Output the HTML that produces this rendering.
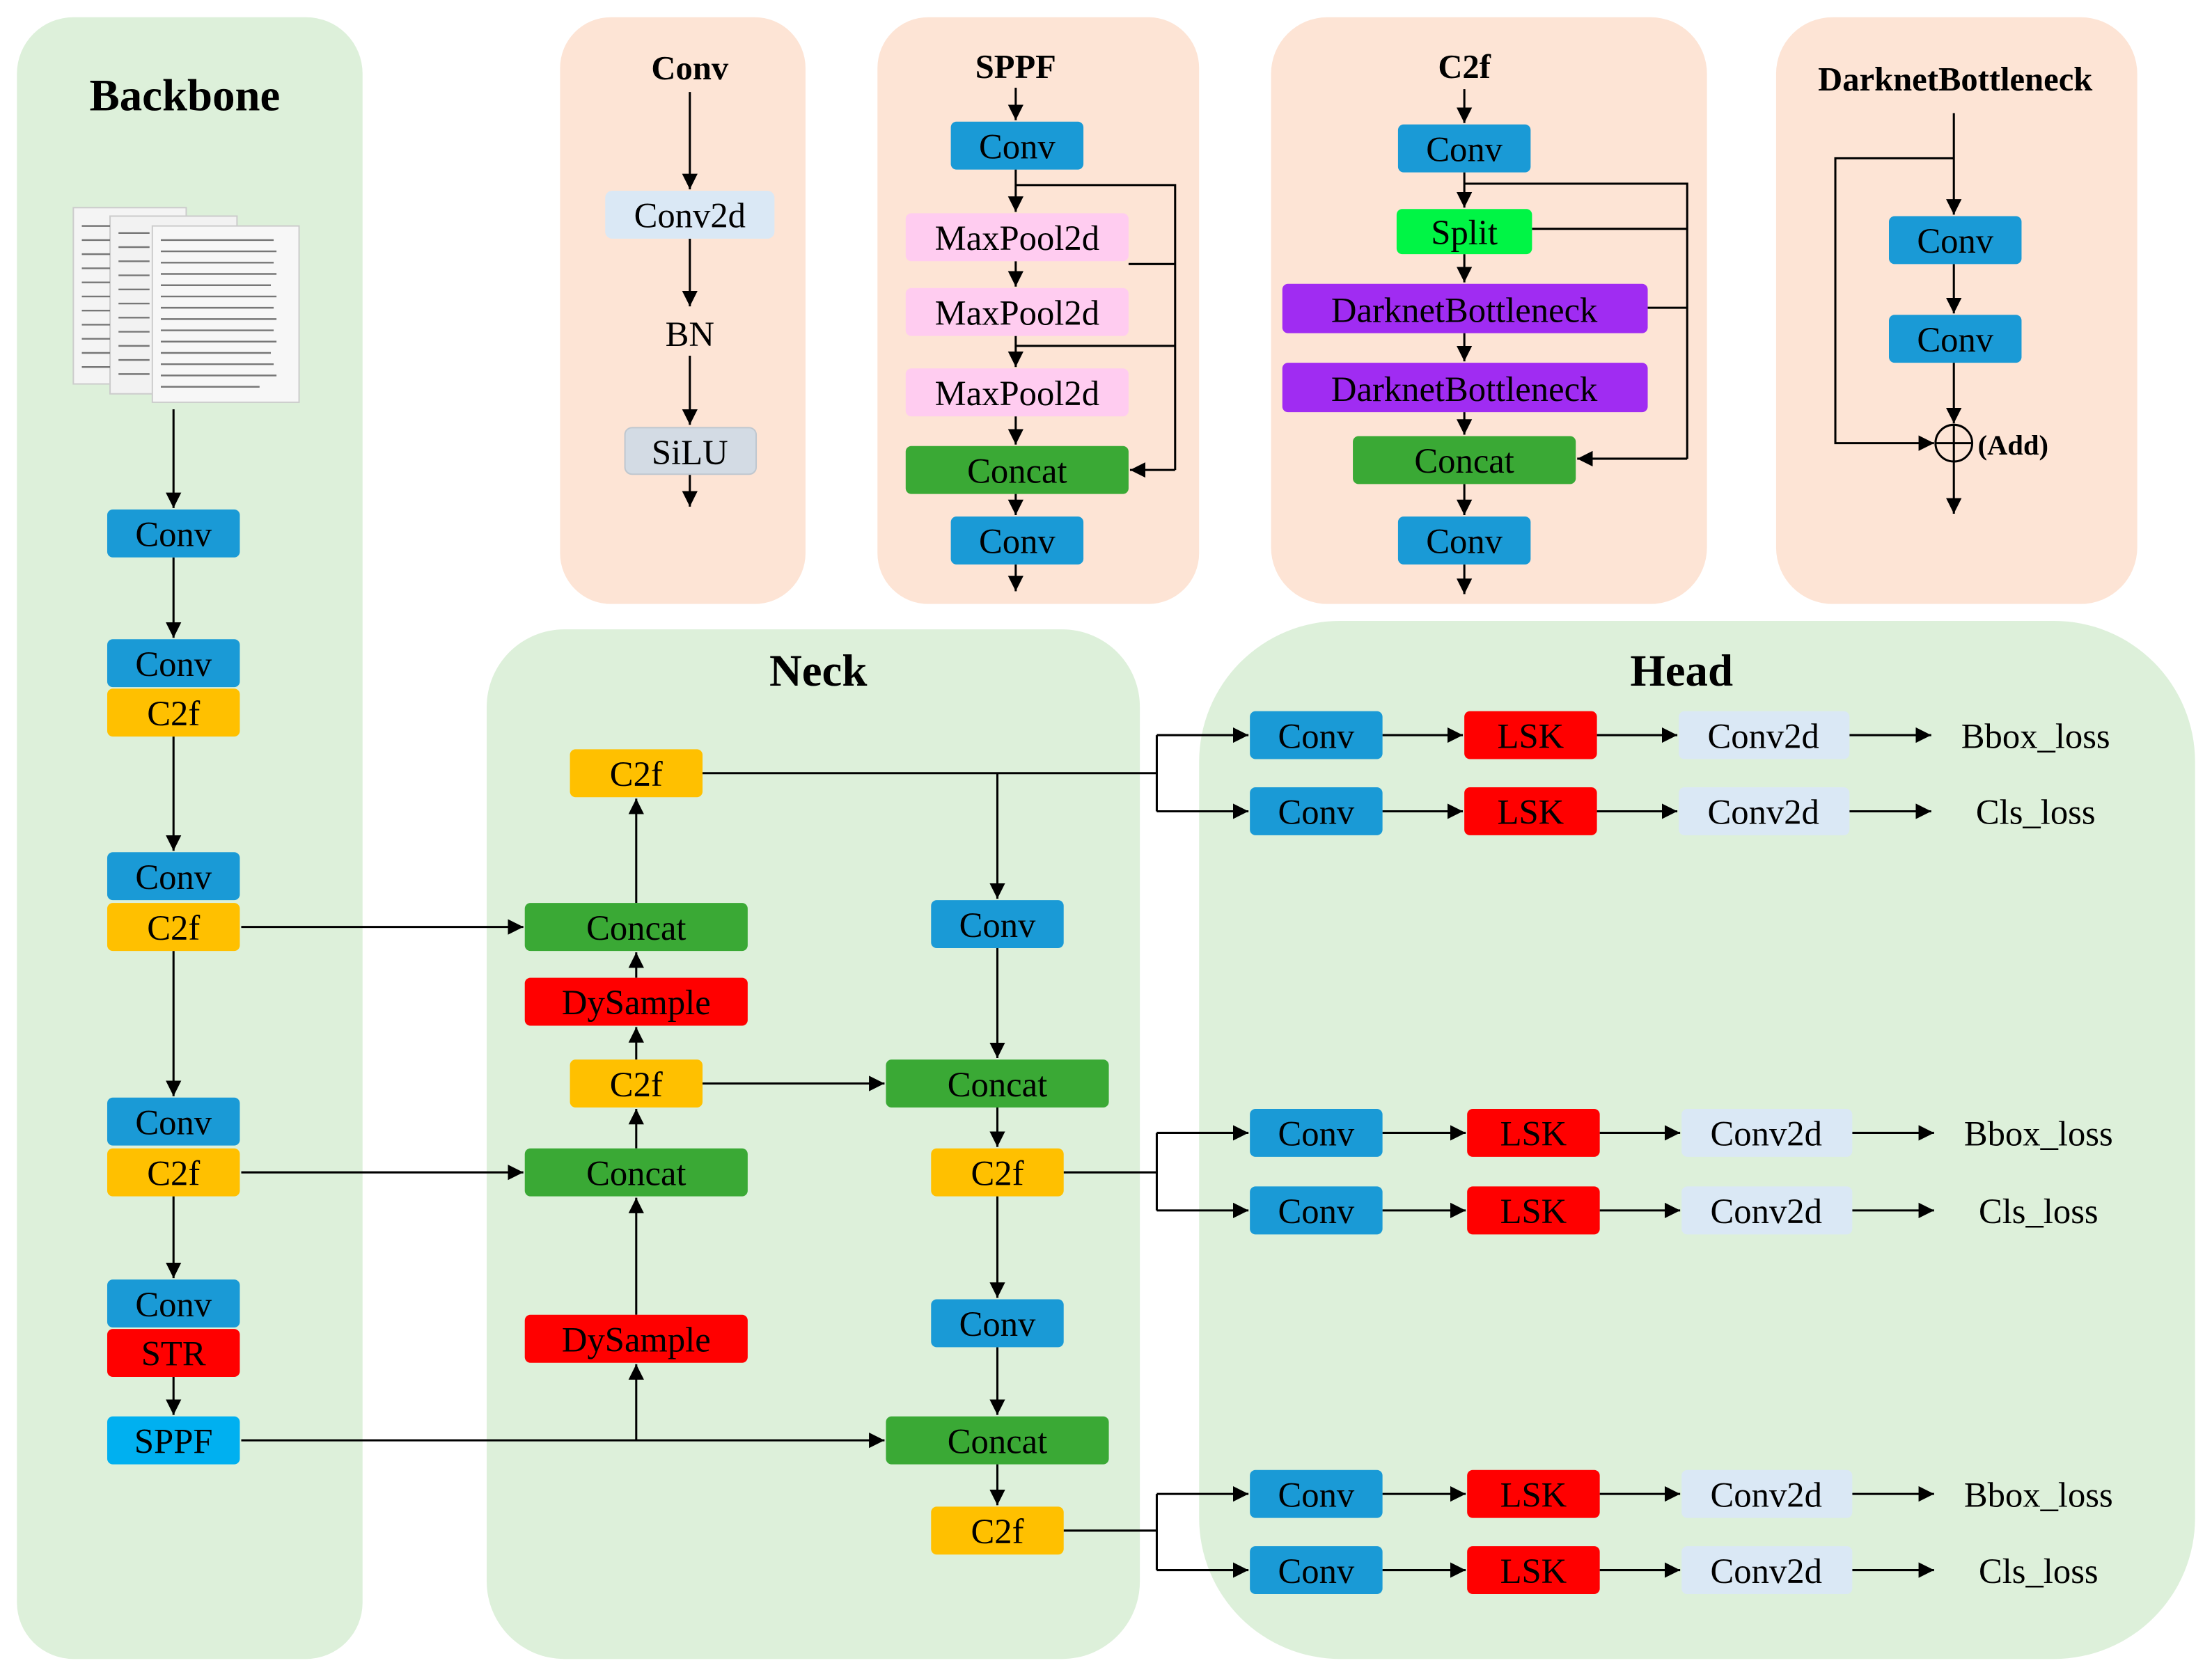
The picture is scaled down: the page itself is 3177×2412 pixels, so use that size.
<!DOCTYPE html>
<html><head><meta charset="utf-8"><style>
html,body{margin:0;padding:0;background:#fff}
svg{display:block}
svg text{font-family:"Liberation Serif","Times New Roman",serif !important;fill:#000}
</style></head><body>
<svg width="3177" height="2412" viewBox="0 0 1568 1190" xmlns="http://www.w3.org/2000/svg" font-family="Liberation Serif, Times New Roman, serif">
<defs>
<marker id="a" viewBox="0 0 10 10" refX="10" refY="5" markerWidth="11" markerHeight="11" markerUnits="userSpaceOnUse" orient="auto"><path d="M0,0L10,5L0,10z" fill="#000"/></marker>
</defs>
<g font-family="'Liberation Serif', 'Times New Roman', serif">
<!-- panels -->
<rect x="12" y="12" width="245" height="1164" rx="40" fill="#ddf0da"/>
<rect x="397" y="12" width="174" height="416" rx="36" fill="#fde4d5"/>
<rect x="622" y="12" width="228" height="416" rx="36" fill="#fde4d5"/>
<rect x="901" y="12" width="309" height="416" rx="40" fill="#fde4d5"/>
<rect x="1259" y="12" width="256" height="416" rx="40" fill="#fde4d5"/>
<rect x="345" y="446" width="463" height="730" rx="55" fill="#ddf0da"/>
<rect x="850" y="440" width="706" height="736" rx="100" fill="#ddf0da"/>

<g font-weight="bold" text-anchor="middle">
<text x="131" y="78" font-size="32">Backbone</text>
<text x="580" y="486" font-size="32">Neck</text>
<text x="1192" y="486" font-size="32">Head</text>
<text x="489" y="56" font-size="24">Conv</text>
<text x="720" y="55" font-size="24">SPPF</text>
<text x="1038" y="55" font-size="24">C2f</text>
<text x="1386" y="64" font-size="24">DarknetBottleneck</text>
</g>

<!-- document image -->
<g>
<rect x="52" y="147" width="80" height="125" fill="#f4f4f4" stroke="#ccc"/>
<rect x="78" y="153" width="90" height="126" fill="#f2f2f2" stroke="#ccc"/>
<rect x="108" y="160" width="104" height="125" fill="#f7f7f7" stroke="#ccc"/>
<g stroke="#777" stroke-width="1.2">
<path d="M58,160h20M58,170h20M58,180h20M58,190h20M58,200h20M58,210h20M58,220h20M58,230h20M58,240h20M58,250h20M58,260h20"/>
<path d="M84,165h22M84,175h22M84,185h22M84,195h22M84,205h22M84,215h22M84,225h22M84,235h22M84,245h22M84,255h22M84,265h22"/>
<path d="M114,170h80M114,178h82M114,186h80M114,194h82M114,202h78M114,210h82M114,218h80M114,226h82M114,234h80M114,242h82M114,250h78M114,258h80M114,266h82M114,274h70"/>
</g>
</g>

<!-- lines & arrows -->
<g stroke="#000" stroke-width="1.5" fill="none">
<path d="M123,290V360" marker-end="url(#a)"/>
<path d="M123,395V452" marker-end="url(#a)"/>
<path d="M123,522V603" marker-end="url(#a)"/>
<path d="M123,674V777" marker-end="url(#a)"/>
<path d="M123,848V906" marker-end="url(#a)"/>
<path d="M123,976V1003" marker-end="url(#a)"/>
<path d="M171,657H371" marker-end="url(#a)"/>
<path d="M171,831H371" marker-end="url(#a)"/>
<path d="M171,1021H627" marker-end="url(#a)"/>
<path d="M451,1021V967" marker-end="url(#a)"/>
<path d="M451,932V849" marker-end="url(#a)"/>
<path d="M451,814V786" marker-end="url(#a)"/>
<path d="M451,751V728" marker-end="url(#a)"/>
<path d="M451,693V675" marker-end="url(#a)"/>
<path d="M451,640V566" marker-end="url(#a)"/>
<path d="M498,548H820"/>
<path d="M707,548V637" marker-end="url(#a)"/>
<path d="M498,768H627" marker-end="url(#a)"/>
<path d="M707,672V750" marker-end="url(#a)"/>
<path d="M707,785V813" marker-end="url(#a)"/>
<path d="M707,848V920" marker-end="url(#a)"/>
<path d="M707,955V1003" marker-end="url(#a)"/>
<path d="M707,1038V1067" marker-end="url(#a)"/>
<path d="M754,831H820"/>
<path d="M754,1085H820"/>
<path d="M820,521V575"/>
<path d="M820,803V858"/>
<path d="M820,1059V1113"/>
<path d="M820,521H885" marker-end="url(#a)"/><path d="M820,575H885" marker-end="url(#a)"/>
<path d="M820,803H885" marker-end="url(#a)"/><path d="M820,858H885" marker-end="url(#a)"/>
<path d="M820,1059H885" marker-end="url(#a)"/><path d="M820,1113H885" marker-end="url(#a)"/>
<path d="M980,521H1037" marker-end="url(#a)"/><path d="M980,575H1037" marker-end="url(#a)"/>
<path d="M980,803H1039" marker-end="url(#a)"/><path d="M980,858H1039" marker-end="url(#a)"/>
<path d="M980,1059H1039" marker-end="url(#a)"/><path d="M980,1113H1039" marker-end="url(#a)"/>
<path d="M1132,521H1189" marker-end="url(#a)"/><path d="M1132,575H1189" marker-end="url(#a)"/>
<path d="M1134,803H1191" marker-end="url(#a)"/><path d="M1134,858H1191" marker-end="url(#a)"/>
<path d="M1134,1059H1191" marker-end="url(#a)"/><path d="M1134,1113H1191" marker-end="url(#a)"/>
<path d="M1311,521H1369" marker-end="url(#a)"/><path d="M1311,575H1369" marker-end="url(#a)"/>
<path d="M1313,803H1371" marker-end="url(#a)"/><path d="M1313,858H1371" marker-end="url(#a)"/>
<path d="M1313,1059H1371" marker-end="url(#a)"/><path d="M1313,1113H1371" marker-end="url(#a)"/>
<path d="M489,65V134" marker-end="url(#a)"/>
<path d="M489,169V217" marker-end="url(#a)"/>
<path d="M489,252V301" marker-end="url(#a)"/>
<path d="M489,336V359" marker-end="url(#a)"/>
<path d="M720,62V85" marker-end="url(#a)"/>
<path d="M720,120V150" marker-end="url(#a)"/>
<path d="M720,185V203" marker-end="url(#a)"/>
<path d="M720,238V260" marker-end="url(#a)"/>
<path d="M720,295V315" marker-end="url(#a)"/>
<path d="M720,350V365" marker-end="url(#a)"/>
<path d="M720,400V419" marker-end="url(#a)"/>
<path d="M720,131H833V333"/>
<path d="M800,187H833M720,245H833"/>
<path d="M833,333H801" marker-end="url(#a)"/>
<path d="M1038,63V87" marker-end="url(#a)"/>
<path d="M1038,122V147" marker-end="url(#a)"/>
<path d="M1038,180V200" marker-end="url(#a)"/>
<path d="M1038,236V256" marker-end="url(#a)"/>
<path d="M1038,292V308" marker-end="url(#a)"/>
<path d="M1038,343V365" marker-end="url(#a)"/>
<path d="M1038,400V421" marker-end="url(#a)"/>
<path d="M1038,130H1196V325"/>
<path d="M1086,162H1196M1168,218H1196"/>
<path d="M1196,325H1118" marker-end="url(#a)"/>
<path d="M1385,80V152" marker-end="url(#a)"/>
<path d="M1385,187V222" marker-end="url(#a)"/>
<path d="M1385,257V300" marker-end="url(#a)"/>
<path d="M1385,112H1301V314H1371" marker-end="url(#a)"/>
<path d="M1385,327V364" marker-end="url(#a)"/>
<circle cx="1385" cy="314" r="13"/>
<path d="M1372,314H1398M1385,301V327"/>
</g>
<text x="1402" y="322" font-size="20" font-weight="bold">(Add)</text>

<!-- nodes -->
<g font-size="25" text-anchor="middle">
<rect x="76" y="361" width="94" height="34" rx="4" fill="#1a9ad6"/><text x="123" y="387">Conv</text>
<rect x="76" y="453" width="94" height="34" rx="4" fill="#1a9ad6"/><text x="123" y="479">Conv</text>
<rect x="76" y="488" width="94" height="34" rx="4" fill="#ffc000"/><text x="123" y="514">C2f</text>
<rect x="76" y="604" width="94" height="34" rx="4" fill="#1a9ad6"/><text x="123" y="630">Conv</text>
<rect x="76" y="640" width="94" height="34" rx="4" fill="#ffc000"/><text x="123" y="666">C2f</text>
<rect x="76" y="778" width="94" height="34" rx="4" fill="#1a9ad6"/><text x="123" y="804">Conv</text>
<rect x="76" y="814" width="94" height="34" rx="4" fill="#ffc000"/><text x="123" y="840">C2f</text>
<rect x="76" y="907" width="94" height="34" rx="4" fill="#1a9ad6"/><text x="123" y="933">Conv</text>
<rect x="76" y="942" width="94" height="34" rx="4" fill="#ff0000"/><text x="123" y="968">STR</text>
<rect x="76" y="1004" width="94" height="34" rx="4" fill="#00b0f0"/><text x="123" y="1030">SPPF</text>
<rect x="404" y="531" width="94" height="34" rx="4" fill="#ffc000"/><text x="451" y="557">C2f</text>
<rect x="372" y="640" width="158" height="34" rx="4" fill="#3aa935"/><text x="451" y="666">Concat</text>
<rect x="372" y="693" width="158" height="34" rx="4" fill="#ff0000"/><text x="451" y="719">DySample</text>
<rect x="404" y="751" width="94" height="34" rx="4" fill="#ffc000"/><text x="451" y="777">C2f</text>
<rect x="372" y="814" width="158" height="34" rx="4" fill="#3aa935"/><text x="451" y="840">Concat</text>
<rect x="372" y="932" width="158" height="34" rx="4" fill="#ff0000"/><text x="451" y="958">DySample</text>
<rect x="660" y="638" width="94" height="34" rx="4" fill="#1a9ad6"/><text x="707" y="664">Conv</text>
<rect x="628" y="751" width="158" height="34" rx="4" fill="#3aa935"/><text x="707" y="777">Concat</text>
<rect x="660" y="814" width="94" height="34" rx="4" fill="#ffc000"/><text x="707" y="840">C2f</text>
<rect x="660" y="921" width="94" height="34" rx="4" fill="#1a9ad6"/><text x="707" y="947">Conv</text>
<rect x="628" y="1004" width="158" height="34" rx="4" fill="#3aa935"/><text x="707" y="1030">Concat</text>
<rect x="660" y="1068" width="94" height="34" rx="4" fill="#ffc000"/><text x="707" y="1094">C2f</text>

<rect x="886" y="504" width="94" height="34" rx="4" fill="#1a9ad6"/><text x="933" y="530">Conv</text>
<rect x="1038" y="504" width="94" height="34" rx="4" fill="#ff0000"/><text x="1085" y="530">LSK</text>
<rect x="1190" y="504" width="121" height="34" rx="4" fill="#dae8f5"/><text x="1250" y="530">Conv2d</text>
<text x="1443" y="530">Bbox_loss</text>
<rect x="886" y="558" width="94" height="34" rx="4" fill="#1a9ad6"/><text x="933" y="584">Conv</text>
<rect x="1038" y="558" width="94" height="34" rx="4" fill="#ff0000"/><text x="1085" y="584">LSK</text>
<rect x="1190" y="558" width="121" height="34" rx="4" fill="#dae8f5"/><text x="1250" y="584">Conv2d</text>
<text x="1443" y="584">Cls_loss</text>

<rect x="886" y="786" width="94" height="34" rx="4" fill="#1a9ad6"/><text x="933" y="812">Conv</text>
<rect x="1040" y="786" width="94" height="34" rx="4" fill="#ff0000"/><text x="1087" y="812">LSK</text>
<rect x="1192" y="786" width="121" height="34" rx="4" fill="#dae8f5"/><text x="1252" y="812">Conv2d</text>
<text x="1445" y="812">Bbox_loss</text>
<rect x="886" y="841" width="94" height="34" rx="4" fill="#1a9ad6"/><text x="933" y="867">Conv</text>
<rect x="1040" y="841" width="94" height="34" rx="4" fill="#ff0000"/><text x="1087" y="867">LSK</text>
<rect x="1192" y="841" width="121" height="34" rx="4" fill="#dae8f5"/><text x="1252" y="867">Conv2d</text>
<text x="1445" y="867">Cls_loss</text>

<rect x="886" y="1042" width="94" height="34" rx="4" fill="#1a9ad6"/><text x="933" y="1068">Conv</text>
<rect x="1040" y="1042" width="94" height="34" rx="4" fill="#ff0000"/><text x="1087" y="1068">LSK</text>
<rect x="1192" y="1042" width="121" height="34" rx="4" fill="#dae8f5"/><text x="1252" y="1068">Conv2d</text>
<text x="1445" y="1068">Bbox_loss</text>
<rect x="886" y="1096" width="94" height="34" rx="4" fill="#1a9ad6"/><text x="933" y="1122">Conv</text>
<rect x="1040" y="1096" width="94" height="34" rx="4" fill="#ff0000"/><text x="1087" y="1122">LSK</text>
<rect x="1192" y="1096" width="121" height="34" rx="4" fill="#dae8f5"/><text x="1252" y="1122">Conv2d</text>
<text x="1445" y="1122">Cls_loss</text>

<rect x="429" y="135" width="120" height="34" rx="5" fill="#dae8f5"/><text x="489" y="161">Conv2d</text>
<text x="489" y="245">BN</text>
<rect x="443" y="303" width="93" height="33" rx="5" fill="#d3dbe4" stroke="#bfc7cf"/><text x="489" y="329">SiLU</text>
<rect x="674" y="86" width="94" height="34" rx="4" fill="#1a9ad6"/><text x="721" y="112">Conv</text>
<rect x="642" y="151" width="158" height="34" rx="4" fill="#ffccf0"/><text x="721" y="177">MaxPool2d</text>
<rect x="642" y="204" width="158" height="34" rx="4" fill="#ffccf0"/><text x="721" y="230">MaxPool2d</text>
<rect x="642" y="261" width="158" height="34" rx="4" fill="#ffccf0"/><text x="721" y="287">MaxPool2d</text>
<rect x="642" y="316" width="158" height="34" rx="4" fill="#3aa935"/><text x="721" y="342">Concat</text>
<rect x="674" y="366" width="94" height="34" rx="4" fill="#1a9ad6"/><text x="721" y="392">Conv</text>
<rect x="991" y="88" width="94" height="34" rx="4" fill="#1a9ad6"/><text x="1038" y="114">Conv</text>
<rect x="990" y="148" width="96" height="32" rx="4" fill="#00f545"/><text x="1038" y="173">Split</text>
<rect x="909" y="201" width="259" height="35" rx="4" fill="#a02cf2"/><text x="1038" y="228">DarknetBottleneck</text>
<rect x="909" y="257" width="259" height="35" rx="4" fill="#a02cf2"/><text x="1038" y="284">DarknetBottleneck</text>
<rect x="959" y="309" width="158" height="34" rx="4" fill="#3aa935"/><text x="1038" y="335">Concat</text>
<rect x="991" y="366" width="94" height="34" rx="4" fill="#1a9ad6"/><text x="1038" y="392">Conv</text>
<rect x="1339" y="153" width="94" height="34" rx="4" fill="#1a9ad6"/><text x="1386" y="179">Conv</text>
<rect x="1339" y="223" width="94" height="34" rx="4" fill="#1a9ad6"/><text x="1386" y="249">Conv</text>
</g>
</g>
</svg>
</body></html>
